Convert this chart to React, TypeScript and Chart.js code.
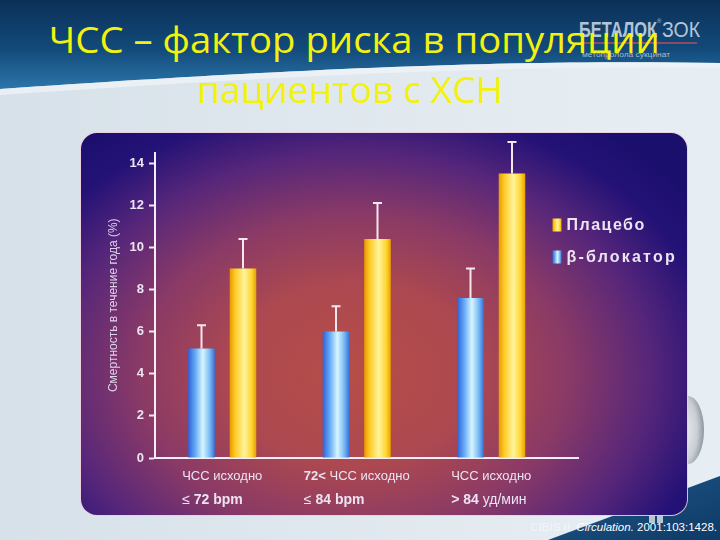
import React, { useEffect, useLayoutEffect, useRef } from 'react';
import { Chart, registerables } from 'chart.js';

Chart.register(...registerables);

// ---------- data ----------
const categories = ['ЧСС исходно ≤ 72 bpm', '72< ЧСС исходно ≤ 84 bpm', 'ЧСС исходно > 84 уд/мин'];
const seriesNames = ['β-блокатор', 'Плацебо'];
const betaBlocker = [5.2, 6.0, 7.6];
const placebo = [9.0, 10.4, 13.5];
const betaBlockerError = [1.1, 1.2, 1.4];
const placeboError = [1.4, 1.7, 1.5];
const yTicks = [0, 2, 4, 6, 8, 10, 12, 14];
const yAxisTitle = 'Смертность в течение года (%)';
// tick labels: [text, bold]
const tickLine1: [string, boolean][][] = [
  [['ЧСС исходно', false]],
  [['72<', true], [' ЧСС исходно', false]],
  [['ЧСС исходно', false]],
];
const tickLine2: [string, boolean][][] = [
  [['≤ ', false], ['72 bpm', true]],
  [['≤ ', false], ['84 bpm', true]],
  [['> 84', true], [' уд/мин', false]],
];
const titleLine1 = 'ЧСС – фактор риска в популяции';
const titleLine2 = 'пациентов с ХСН';

// ---------- styles ----------
const FONT = '"Liberation Sans", Arial, sans-serif';
const TEXT_COLOR = '#ece4f2';
const barGradients: [number, string][][] = [
  [[0, '#2c62dc'], [0.28, '#6aaef6'], [0.55, '#d6f6ff'], [0.8, '#7cbcf4'], [1, '#3572dc']],
  [[0, '#e89a00'], [0.22, '#ffcc2a'], [0.55, '#fff49c'], [0.82, '#ffd634'], [1, '#eaa000']],
];
const errorSets = [betaBlockerError, placeboError];

const makeGradient = (ctx: CanvasRenderingContext2D, x0: number, x1: number, stops: [number, string][]) => {
  const g = ctx.createLinearGradient(x0, 0, x1, 0);
  stops.forEach(([o, c]) => g.addColorStop(o, c));
  return g;
};

const gradientPlugin = {
  id: 'barGradient',
  beforeDatasetsDraw(chart: any) {
    const ctx = chart.ctx;
    chart.data.datasets.forEach((_ds: any, i: number) => {
      const meta = chart.getDatasetMeta(i);
      meta.data.forEach((el: any) => {
        const { x, width } = el.getProps(['x', 'width'], true);
        el.options = { ...el.options, backgroundColor: makeGradient(ctx, x - width / 2, x + width / 2, barGradients[i]) };
      });
    });
  },
};

const errorBarPlugin = {
  id: 'errorBars',
  afterDatasetsDraw(chart: any) {
    const ctx = chart.ctx;
    const yScale = chart.scales.y;
    ctx.save();
    ctx.strokeStyle = '#f6e6ee';
    ctx.lineWidth = 2;
    chart.data.datasets.forEach((ds: any, i: number) => {
      const meta = chart.getDatasetMeta(i);
      meta.data.forEach((el: any, j: number) => {
        const { x, y } = el.getProps(['x', 'y'], true);
        const top = yScale.getPixelForValue(ds.data[j] + errorSets[i][j]);
        ctx.beginPath();
        ctx.moveTo(x, y);
        ctx.lineTo(x, top);
        ctx.moveTo(x - 4.5, top);
        ctx.lineTo(x + 4.5, top);
        ctx.stroke();
      });
    });
    ctx.restore();
  },
};

const drawSegments = (ctx: CanvasRenderingContext2D, segs: [string, boolean][], x: number, y: number, size: number) => {
  let cx = x;
  segs.forEach(([t, b]) => {
    ctx.font = `${b ? 'bold ' : ''}${size}px ${FONT}`;
    ctx.fillText(t, cx, y);
    cx += ctx.measureText(t).width;
  });
};
const segWidth = (ctx: CanvasRenderingContext2D, segs: [string, boolean][], size: number) => {
  let w = 0;
  segs.forEach(([t, b]) => {
    ctx.font = `${b ? 'bold ' : ''}${size}px ${FONT}`;
    w += ctx.measureText(t).width;
  });
  return w;
};

const decorPlugin = {
  id: 'decor',
  afterDraw(chart: any) {
    const ctx = chart.ctx as CanvasRenderingContext2D;
    const area = chart.chartArea;
    const xScale = chart.scales.x;
    const yScale = chart.scales.y;
    ctx.save();
    // extend the category axis line
    const y0 = Math.round(yScale.getPixelForValue(0));
    ctx.strokeStyle = '#f4eef8';
    ctx.lineWidth = 2;
    ctx.beginPath();
    ctx.moveTo(area.right - 2, y0);
    ctx.lineTo(area.right + 20.5, y0);
    ctx.stroke();

    // category labels
    ctx.fillStyle = TEXT_COLOR;
    ctx.textBaseline = 'middle';
    ctx.textAlign = 'left';
    categories.forEach((_c, i) => {
      const cx = xScale.getPixelForValue(i);
      const w1 = segWidth(ctx, tickLine1[i], 13);
      const left = cx - w1 / 2;
      drawSegments(ctx, tickLine1[i], left, area.bottom + 18, 13);
      drawSegments(ctx, tickLine2[i], left, area.bottom + 42, 14);
    });

    // legend (Плацебо first)
    const order = [1, 0];
    const lx = area.right - 6;
    order.forEach((di, k) => {
      const cy = area.top + 72.5 + k * 32;
      ctx.fillStyle = makeGradient(ctx, lx, lx + 9, barGradients[di]);
      ctx.fillRect(lx, cy - 6.5, 9, 13);
      ctx.fillStyle = TEXT_COLOR;
      ctx.font = `bold 16px ${FONT}`;
      (ctx as any).letterSpacing = di === 1 ? '1.5px' : '2.2px';
      ctx.fillText(chart.data.datasets[di].label, lx + 14, cy + 1);
    });
    ctx.restore();
  },
};

function FitText({ text, width, centerX, left, top, size, color, family, weight }: any) {
  const ref = useRef<HTMLSpanElement>(null);
  useLayoutEffect(() => {
    const el = ref.current;
    if (!el) return;
    el.style.transform = 'none';
    const w = el.getBoundingClientRect().width;
    el.style.transform = `scaleX(${width / w})`;
  }, [text, width]);
  const isCenter = centerX !== undefined;
  return (
    <div style={{ position: 'absolute', left: isCenter ? centerX - 400 : left, width: isCenter ? 800 : undefined, top, textAlign: isCenter ? 'center' : 'left', lineHeight: `${size}px`, whiteSpace: 'nowrap' }}>
      <span ref={ref} style={{ display: 'inline-block', fontFamily: family, fontSize: size, fontWeight: weight || 'normal', color, transformOrigin: isCenter ? 'center' : 'left', whiteSpace: 'nowrap' }}>{text}</span>
    </div>
  );
}

function BarChart() {
  const canvasRef = useRef<HTMLCanvasElement>(null);
  useEffect(() => {
    const canvas = canvasRef.current!;
    const chart = new Chart(canvas, {
      type: 'bar',
      data: {
        labels: categories,
        datasets: [
          { label: seriesNames[0], data: betaBlocker, backgroundColor: '#7cbcf4', borderWidth: 0 },
          { label: seriesNames[1], data: placebo, backgroundColor: '#ffd634', borderWidth: 0 },
        ],
      },
      options: {
        responsive: false,
        maintainAspectRatio: false,
        animation: false,
        devicePixelRatio: 1,
        layout: { padding: { left: 0, top: 19.5, right: 128.5, bottom: 57 } },
        datasets: { bar: { categoryPercentage: 0.617, barPercentage: 0.64 } },
        plugins: { legend: { display: false }, tooltip: { enabled: false } },
        scales: {
          x: {
            grid: { display: false },
            ticks: { display: false },
            border: { display: true, color: '#f4eef8', width: 2 },
            afterFit: (s: any) => { s.height = 0; },
          },
          y: {
            min: 0,
            max: 14.5,
            afterBuildTicks: (s: any) => { s.ticks = yTicks.map((v) => ({ value: v })); },
            ticks: { color: TEXT_COLOR, font: { family: FONT, size: 13, weight: 'bold' }, padding: 5 },
            grid: { drawOnChartArea: false, tickLength: 6, tickColor: '#f0e8f4', tickWidth: 2 },
            border: { color: '#f4eef8', width: 2 },
            title: { display: true, text: yAxisTitle, color: '#ddd4ea', font: { family: FONT, size: 12 }, padding: { top: 25, bottom: 0 } },
            afterFit: (s: any) => { s.width = 74; },
          },
        },
      },
      plugins: [gradientPlugin, errorBarPlugin, decorPlugin],
    } as any);
    return () => chart.destroy();
  }, []);
  return <canvas ref={canvasRef} width={606} height={382} style={{ display: 'block', width: 606, height: 382 }} />;
}

export default function App() {
  return (
    <div style={{ position: 'fixed', left: 0, top: 0, width: 720, height: 540, overflow: 'hidden', background: 'linear-gradient(90deg,#d7e1e9 0%,#e2eaf0 60%,#e7eef3 100%)', fontFamily: FONT }}>
      <svg width={720} height={540} style={{ position: 'absolute', left: 0, top: 0 }}>
        <defs>
          <linearGradient id="hdr" x1="0" y1="0" x2="0" y2="1">
            <stop offset="0" stopColor="#0b3058" />
            <stop offset="0.55" stopColor="#124a7a" />
            <stop offset="1" stopColor="#2c76aa" />
          </linearGradient>
          <linearGradient id="tri" x1="0" y1="0" x2="1" y2="1">
            <stop offset="0" stopColor="#1f5a8c" />
            <stop offset="1" stopColor="#0e3a66" />
          </linearGradient>
          <radialGradient id="arc" cx="0.3" cy="0.5" r="0.7">
            <stop offset="0" stopColor="#f2f4f6" />
            <stop offset="0.7" stopColor="#c9ced4" />
            <stop offset="1" stopColor="#8d959e" />
          </radialGradient>
        </defs>
        <path d="M0,0 H720 V63 C560,60 360,64 0,89 Z" fill="url(#hdr)" />
        <path d="M0,89 C360,64 560,60 720,63 V68 C560,66 360,70 0,95 Z" fill="#edf2f6" opacity="0.8" />
        <ellipse cx="688" cy="430" rx="16" ry="34" fill="url(#arc)" />
        <path d="M548,540 L720,476 V540 Z" fill="url(#tri)" />
        <rect x="649" y="514" width="6" height="9" fill="#b8c6d4" />
        <rect x="657" y="514" width="6" height="9" fill="#b8c6d4" />
      </svg>

      {/* logo */}
      <FitText text="БЕТАЛОК" width={78} left={579} top={19} size={22} weight="bold" color="#b3c4d8" family={FONT} />
      <div style={{ position: 'absolute', left: 657, top: 18, fontSize: 6, color: '#b3c4d8', fontFamily: FONT }}>®</div>
      <FitText text="ЗОК" width={38} left={662} top={19} size={22} color="#b3c4d8" family={FONT} />
      <div style={{ position: 'absolute', left: 580, top: 42, width: 117, height: 2, background: '#8a4a6a' }} />
      <FitText text="метопролола сукцинат" width={88} left={582} top={48} size={8} color="#a9bbcf" family={FONT} />

      {/* title */}
      <FitText text={titleLine1} width={611} centerX={354.5} top={20} size={37} color="#f2f20e" family='"Open Sans", sans-serif' />
      <FitText text={titleLine2} width={306} centerX={350} top={70} size={37} color="#f2f20e" family='"Open Sans", sans-serif' />

      {/* chart panel */}
      <div style={{ position: 'absolute', left: 81, top: 133, width: 606, height: 382, borderRadius: 16, overflow: 'hidden', boxSizing: 'border-box', boxShadow: '0 0 0 1px rgba(236,206,222,0.9)', background: 'radial-gradient(ellipse 68% 80% at 45% 63%, #b64e48 0%, #ac4850 30%, #8a3a66 52%, #56267a 72%, #241276 88%, #1b0f6e 100%)', backgroundColor: '#1b0f6e' }}>
        <div style={{ position: 'absolute', left: 0, top: 0 }}>
          <BarChart />
        </div>
      </div>

      {/* citation */}
      <div style={{ position: 'absolute', right: 3, top: 521, fontSize: 11.5, color: '#ffffff', whiteSpace: 'nowrap', fontFamily: FONT }}>
        <span style={{ color: 'rgba(255,255,255,0.55)' }}>CIBIS II. </span>
        <span style={{ fontStyle: 'italic' }}>Circulation.</span>
        <span> 2001:103:1428.</span>
      </div>
    </div>
  );
}
